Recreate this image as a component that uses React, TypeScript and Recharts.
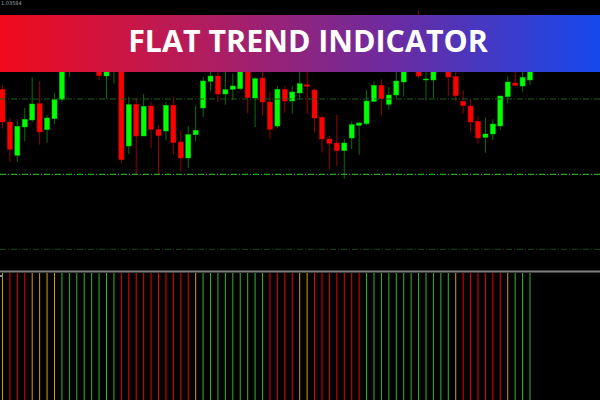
import React from "react";
import { ComposedChart, BarChart, Bar, XAxis, YAxis, ReferenceLine, Cell } from "recharts";

// candle prices (points), one entry per bar, left to right
const opens = [
  190.7, 158, 124.7, 153, 160, 176.3, 150.3, 161.3, 180.7, 214, 240, 226, 246, 222, 204, 218, 230, 134,
  175.7, 144, 174, 150.3, 149, 174.7, 138, 122, 145.3, 172, 198.7, 204, 186, 190.7, 191.3, 220, 182, 202,
  178, 154, 190.7, 179, 187, 195.3, 190, 162.7, 141, 137, 129.3, 142, 154.7, 156.3, 178.7, 194.7, 175.7, 185,
  198, 232, 230, 200.7, 200, 226, 218, 203.3, 178.7, 174, 158.7, 142.7, 146, 154, 183.3, 197, 194, 200,
];
const highs = [
  194.7, 162, 159.7, 172, 202.7, 199, 164.7, 187, 228, 248, 252, 254, 256, 230, 232, 245, 235, 183.3,
  181.3, 186, 178, 154.7, 178, 183, 149.7, 154, 174.7, 203, 214, 212, 216, 206.3, 225, 228, 203, 216,
  188.7, 194, 194, 194, 214, 220, 191.3, 164.7, 144, 165.3, 141.3, 158.7, 158, 190.3, 198.7, 200.7, 193, 212,
  224, 240, 269, 214, 230, 234, 224, 214, 189.7, 181.3, 164, 162.7, 160.7, 184, 203.3, 218, 214, 216,
];
const lows = [
  151.3, 118, 118, 138.7, 158, 135.3, 137.3, 156, 178, 203, 218, 220, 214, 199.7, 181.3, 196.3, 116.7, 126,
  105.3, 144, 132, 105.3, 139.7, 125.3, 108.7, 112, 138.7, 163, 188.7, 178, 175.3, 179.7, 190, 166.3, 153, 164.7,
  141.3, 152, 167.3, 166.3, 180.7, 166.3, 147.3, 127.3, 110.7, 114, 101.3, 130.7, 125.3, 154.7, 178, 164.7, 170.3, 181.3,
  183.7, 212, 202, 179.7, 182, 210, 184.3, 178.7, 166.3, 147.3, 136.3, 127.3, 140, 150, 176.7, 194, 188.3, 195,
];
const closes = [
  158, 130.7, 153.7, 160.7, 176, 148, 162, 180.3, 220, 240, 226, 246, 222, 204.3, 225, 238, 120.3, 175.3,
  144, 173.7, 150.7, 144.3, 174.7, 137.3, 122, 145.3, 149.7, 199, 204, 186, 190.3, 194, 220, 182.3, 201.3, 178,
  150.7, 190.7, 179, 188, 196.3, 193.7, 162, 141, 136.7, 129.3, 137, 155.3, 157, 179, 194.7, 181.3, 185, 199,
  218, 220, 204, 201, 222, 214, 203, 184.3, 174.3, 158, 142, 146, 156, 184, 198, 194.7, 202.7, 214,
];

// indicator state per bar: u = trend up, d = trend down, f = flat
const states = [
  "f", "d", "d", "d", "f", "f", "f", "f", "u", "u", "u", "u", "u", "u", "u", "u", "d", "d",
  "d", "d", "d", "d", "d", "d", "d", "d", "f", "u", "u", "u", "u", "u", "u", "u", "u", "u",
  "d", "d", "d", "d", "f", "f", "d", "d", "d", "d", "d", "d", "d", "u", "u", "u", "u", "u",
  "u", "u", "u", "u", "u", "u", "u", "f", "d", "d", "d", "d", "d", "d", "f", "u", "u", "u",
];

const levels = [181, 105.7, 30.7];
const levelColors = ["#1c5e1c", "#2fd02f", "#1b461b"];
const stateColors: Record<string, string> = { u: "#2cb82c", d: "#ee0000", f: "#d0a000" };

const candles = opens.map((o, i) => ({
  i,
  open: o,
  high: highs[i],
  low: lows[i],
  close: closes[i],
  range: [lows[i], highs[i]],
}));
const hist = states.map((s, i) => ({ i, v: 1, s }));

const X_DOMAIN: [number, number] = [-0.363, 80.39];

function Candle(props: any) {
  const { x, y, width, height, payload } = props;
  if (!payload) return null;
  const { open, close, high, low } = payload;
  const k = high - low > 0 ? height / (high - low) : 0;
  const up = close >= open;
  const top = y + (high - Math.max(open, close)) * k;
  const bot = y + (high - Math.min(open, close)) * k;
  const cx = x + width / 2;
  return (
    <g>
      <line x1={cx} x2={cx} y1={y} y2={y + height} stroke={up ? "#0b6e0b" : "#960000"} strokeWidth={1} />
      <rect
        x={x}
        y={top}
        width={width}
        height={Math.max(bot - top, 1)}
        fill={up ? "#00ff00" : "#ff0000"}
        stroke={up ? "#00c800" : "#d00000"}
        strokeWidth={0.5}
      />
    </g>
  );
}

export default function App() {
  return (
    <div style={{ position: "absolute", left: 0, top: 0, width: 600, height: 400, background: "#000", overflow: "hidden" }}>
      <div style={{ position: "absolute", left: 0, top: 0 }}>
        <ComposedChart width={600} height={270} data={candles} margin={{ top: 0, right: 0, bottom: 0, left: 0 }}>
          <XAxis dataKey="i" type="number" domain={X_DOMAIN} hide allowDataOverflow />
          <YAxis domain={[10, 280]} hide allowDataOverflow />
          {levels.map((lv, k) => (
            <ReferenceLine key={k} y={lv} stroke={levelColors[k]} strokeDasharray="6 2 1 2" strokeWidth={1} />
          ))}
          <Bar dataKey="range" barSize={5} shape={<Candle />} isAnimationActive={false} />
        </ComposedChart>
      </div>
      <div style={{ position: "absolute", left: 0, top: 273 }}>
        <BarChart width={600} height={127} data={hist} margin={{ top: 0, right: 0, bottom: 0, left: 0 }}>
          <XAxis dataKey="i" type="number" domain={X_DOMAIN} hide allowDataOverflow />
          <YAxis domain={[0, 1]} hide />
          <Bar dataKey="v" barSize={1} isAnimationActive={false}>
            {hist.map((d, k) => (
              <Cell key={k} fill={stateColors[d.s]} />
            ))}
          </Bar>
        </BarChart>
      </div>
      <svg width={600} height={400} style={{ position: "absolute", left: 0, top: 0, pointerEvents: "none" }}>
        <defs>
          <linearGradient id="banner" x1="0" y1="0" x2="1" y2="0">
            <stop offset="0%" stopColor="#f00a1c" />
            <stop offset="33%" stopColor="#b41c5c" />
            <stop offset="66%" stopColor="#6a2ca2" />
            <stop offset="100%" stopColor="#1548ec" />
          </linearGradient>
        </defs>
        <text x={1} y={5} fontSize={5} fill="#9aa0a8" fontFamily="DejaVu Sans">1.03584</text>
        <rect x={0} y={15} width={600} height={57} fill="url(#banner)" />
        <text
          x={308}
          y={51.5}
          textAnchor="middle"
          fill="#ffffff"
          fontFamily="'Open Sans', sans-serif"
          fontWeight={700}
          fontSize={30.4}
        >
          FLAT TREND INDICATOR
        </text>
        <line x1={0} x2={600} y1={271.5} y2={271.5} stroke="#808080" strokeWidth={2} />
        <rect x={0} y={275} width={3} height={2} fill="#909090" />
      </svg>
    </div>
  );
}
